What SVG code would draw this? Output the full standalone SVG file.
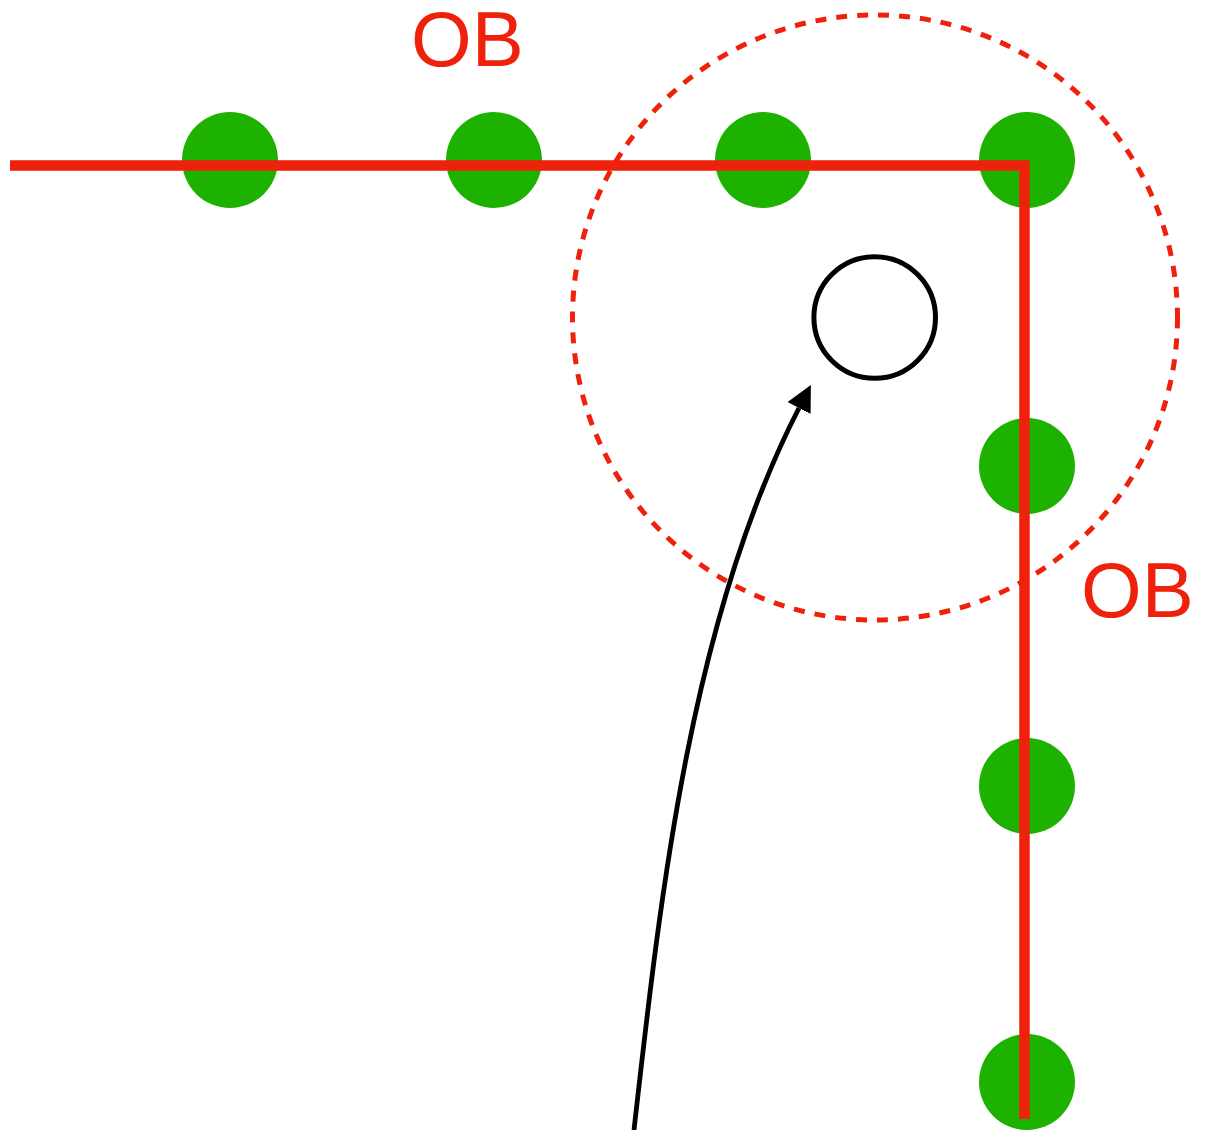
<svg xmlns="http://www.w3.org/2000/svg" width="1215" height="1130" viewBox="0 0 1215 1130">
<style>
.dot{fill:#1DB100;}
.red{stroke:#EE220C;fill:none;}
.lbl{font-family:"Liberation Sans",Arial,sans-serif;font-size:78px;fill:#EE220C;}
</style>
<defs>
<marker id="ah" markerUnits="userSpaceOnUse" markerWidth="26" markerHeight="26" refX="0" refY="13" orient="auto">
<path d="M0,0 L26,13 L0,26 z" fill="#000"/>
</marker>
</defs>
<rect width="1215" height="1130" fill="#fff"/>
<g id="dots">
<circle id="d1" class="dot" cx="230" cy="160" r="48"/>
<circle id="d2" class="dot" cx="494" cy="160" r="48"/>
<circle id="d3" class="dot" cx="763" cy="160" r="48"/>
<circle id="d4" class="dot" cx="1027" cy="160" r="48"/>
<circle id="d5" class="dot" cx="1027" cy="466" r="48"/>
<circle id="d6" class="dot" cx="1027" cy="786" r="48"/>
<circle id="d7" class="dot" cx="1027" cy="1082" r="48"/>
</g>
<g id="boundary">
<path class="red" d="M10,165.5 L1024.5,165.5 L1024.5,1119" stroke-width="10.5" stroke-linejoin="miter"/>
</g>
<g id="range">
<circle class="red" cx="875" cy="317.5" r="302.5" stroke-width="5" stroke-dasharray="11 10"/>
</g>
<g id="target">
<circle cx="874.7" cy="317.5" r="60.8" fill="#fff" stroke="#000" stroke-width="5"/>
</g>
<g id="connectors">
<path d="M634,1130 C660,900 690,620 799,408" fill="none" stroke="#000" stroke-width="4.8" marker-end="url(#ah)"/>
</g>
<g id="labels">
<text class="lbl" x="411" y="66">OB</text>
<text class="lbl" x="1081" y="617">OB</text>
</g>
</svg>
